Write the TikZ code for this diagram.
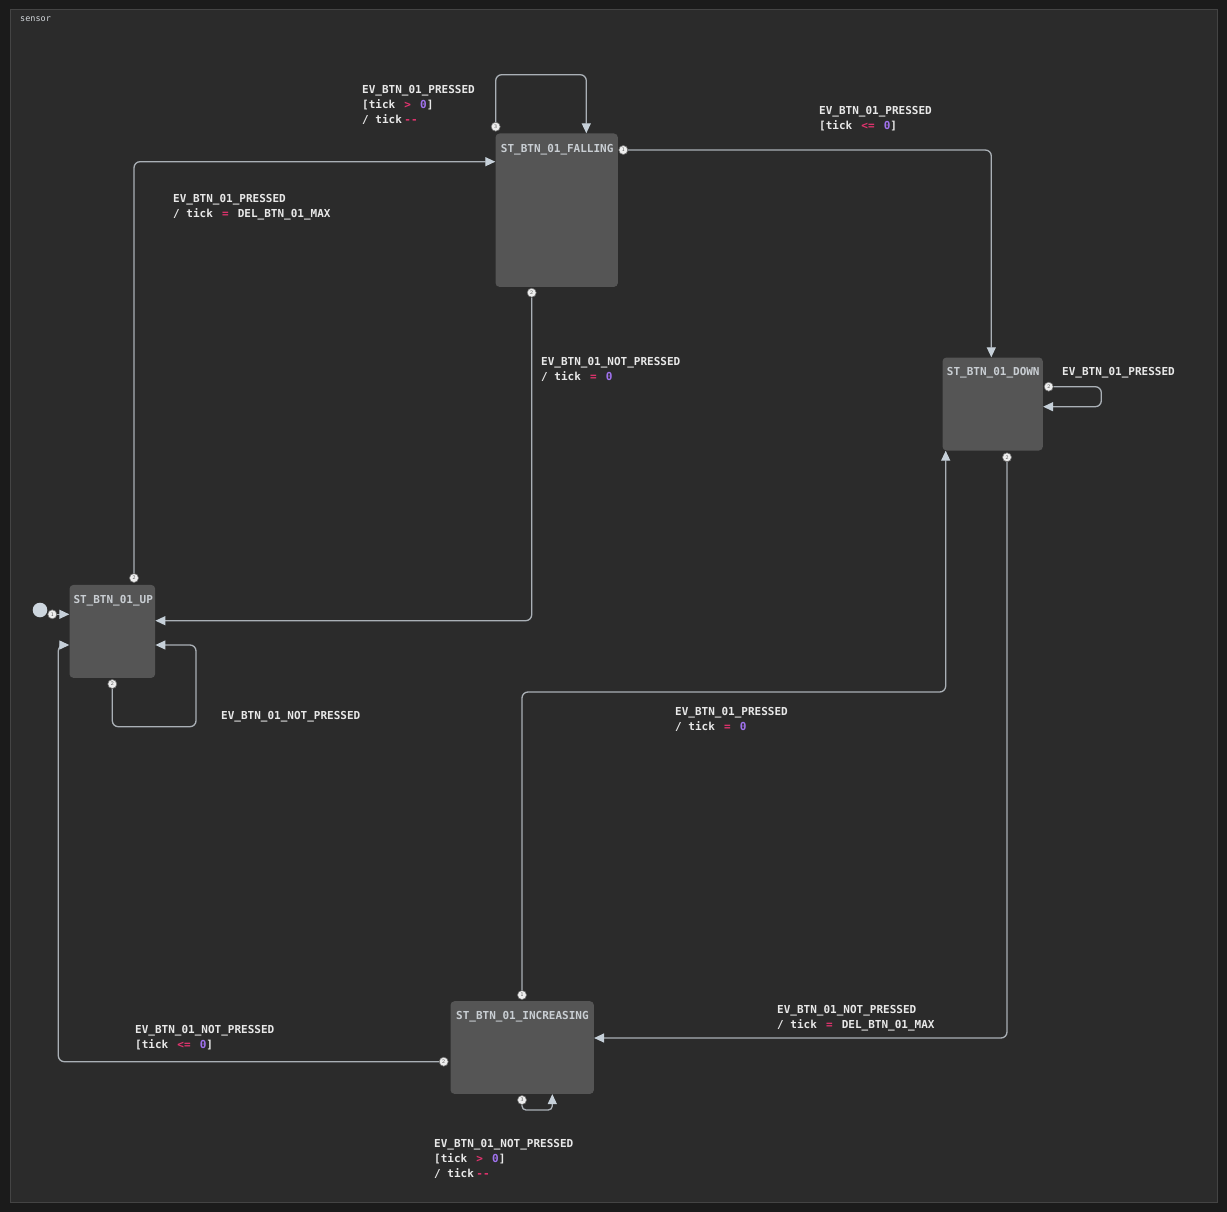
\documentclass[tikz,border=0pt]{standalone}
\usepackage{fontspec}
\setmonofont{DejaVu Sans Mono}
\usetikzlibrary{arrows.meta}
\definecolor{bgout}{HTML}{1B1B1B}
\definecolor{bgin}{HTML}{2B2B2B}
\definecolor{framec}{HTML}{444444}
\definecolor{statefill}{HTML}{555555}
\definecolor{titlec}{HTML}{C9CED3}
\definecolor{edgec}{HTML}{AAB0B6}
\definecolor{tipc}{HTML}{C6D0D9}
\definecolor{lblc}{HTML}{E8E8E8}
\definecolor{opc}{HTML}{E2336E}
\definecolor{numc}{HTML}{A072EE}
\definecolor{portfill}{HTML}{EEEEEE}
\definecolor{portdraw}{HTML}{6E6E6E}
\definecolor{portnum}{HTML}{555555}
\definecolor{initc}{HTML}{CDD6DE}
\newcommand{\opx}[1]{\hspace{2.5pt}\textcolor{opc}{#1}\hspace{2.5pt}}
\newcommand{\numx}[1]{\textcolor{numc}{#1}}
\tikzset{
  statebox/.style={fill=statefill, draw=none, rounded corners=4pt, inner sep=0pt, anchor=north west},
  stitle/.style={anchor=base west, inner sep=0pt, text=titlec, font=\fontsize{11}{15}\selectfont\ttfamily\bfseries},
  port/.style={circle, fill=portfill, draw=portdraw, line width=0.6pt, inner sep=0pt, minimum size=9pt, text=portnum, font=\fontsize{5.5}{6}\selectfont\sffamily},
  edge/.style={draw=edgec, line width=1.3pt, rounded corners=6pt, -{Triangle[length=10pt,width=9pt,fill=tipc,color=tipc]}},
  lbl/.style={anchor=north west, inner sep=0pt, align=left, text=lblc, font=\fontsize{11}{15}\selectfont\ttfamily\bfseries},
}
\begin{document}
\begin{tikzpicture}[x=1pt,y=-1pt]
\useasboundingbox (0,0) rectangle (1227,1212);
\fill[bgout] (0,0) rectangle (1227,1212);
\draw[fill=bgin, draw=framec, line width=1pt] (10,10) rectangle (1217,1202);
\node[anchor=west, inner sep=0pt, text=titlec!80, font=\fontsize{8.5}{9}\selectfont\ttfamily] (sensor) at (20,19.5) {sensor};

% states
\node[statebox, minimum width=122.4pt, minimum height=153.4pt] (fall) at (495.3,133.3) {};
\node[stitle] (fallT) at (500.7,152.3) {ST\_BTN\_01\_FALLING};
\node[statebox, minimum width=100.4pt, minimum height=93pt] (down) at (942.3,357.3) {};
\node[stitle] (downT) at (946.7,375.7) {ST\_BTN\_01\_DOWN};
\node[statebox, minimum width=85.7pt, minimum height=93pt] (up) at (69.3,584.7) {};
\node[stitle] (upT) at (73.3,603.3) {ST\_BTN\_01\_UP};
\node[statebox, minimum width=143.4pt, minimum height=92.7pt] (inc) at (450.3,1001) {};
\node[stitle] (incT) at (456,1019.7) {ST\_BTN\_01\_INCREASING};

% initial
\node[circle, fill=initc, inner sep=0pt, minimum size=14.6pt] (init) at (40,610) {};

% ports
\node[port] (ip1) at (52.3,614.3) {1};
\node[port] (up2t) at (134,578) {2};
\node[port] (up2b) at (112.3,684) {2};
\node[port] (fp3) at (495.7,126.7) {3};
\node[port] (fp1) at (623.3,150) {1};
\node[port] (fp2) at (531.7,292.7) {2};
\node[port] (dp2r) at (1048.7,386.7) {2};
\node[port] (dp2b) at (1007,457.3) {2};
\node[port] (inc1) at (522,995) {1};
\node[port] (inc2) at (443.7,1061.7) {2};
\node[port] (inc3) at (522,1100) {3};

% edges
\draw[edge] (ip1) -- (up.west |- 0,614.3);
\draw[edge] (up2t) -- (134,161.7) -- (fall.west |- 0,161.7);
\draw[edge] (up2b) -- (112.3,726.7) -- (196,726.7) -- (196,645) -- (up.east |- 0,645);
\draw[edge] (fp3) -- (495.7,74.7) -- (586.3,74.7) -- (fall.north -| 586.3,0);
\draw[edge] (fp1) -- (991.3,150) -- (down.north -| 991.3,0);
\draw[edge] (fp2) -- (531.7,620.7) -- (up.east |- 0,620.7);
\draw[edge] (dp2r) -- (1101.3,386.7) -- (1101.3,406.7) -- (down.east |- 0,406.7);
\draw[edge] (dp2b) -- (1007,1038) -- (inc.east |- 0,1038);
\draw[edge] (inc1) -- (522,692) -- (945.7,692) -- (down.south -| 945.7,0);
\draw[edge] (inc2) -- (58.3,1061.7) -- (58.3,645) -- (up.west |- 0,645);
\draw[edge, rounded corners=4pt] (inc3) -- (522,1110) -- (552.3,1110) -- (inc.south -| 552.3,0);

% labels
\node[lbl] (l2) at (173,194) {EV\_BTN\_01\_PRESSED\\/ tick \opx{=} DEL\_BTN\_01\_MAX};
\node[lbl] (l3) at (221,711) {EV\_BTN\_01\_NOT\_PRESSED};
\node[lbl] (l4) at (362,85) {EV\_BTN\_01\_PRESSED\\{[}tick \opx{>} \numx{0}]\\/ tick\opx{-{}-}};
\node[lbl] (l5) at (819,106) {EV\_BTN\_01\_PRESSED\\{[}tick \opx{<=} \numx{0}]};
\node[lbl] (l6) at (541,357) {EV\_BTN\_01\_NOT\_PRESSED\\/ tick \opx{=} \numx{0}};
\node[lbl] (l7) at (1062,367) {EV\_BTN\_01\_PRESSED};
\node[lbl] (l8) at (777,1005) {EV\_BTN\_01\_NOT\_PRESSED\\/ tick \opx{=} DEL\_BTN\_01\_MAX};
\node[lbl] (l9) at (675,707) {EV\_BTN\_01\_PRESSED\\/ tick \opx{=} \numx{0}};
\node[lbl] (l10) at (135,1025) {EV\_BTN\_01\_NOT\_PRESSED\\{[}tick \opx{<=} \numx{0}]};
\node[lbl] (l11) at (434,1139) {EV\_BTN\_01\_NOT\_PRESSED\\{[}tick \opx{>} \numx{0}]\\/ tick\opx{-{}-}};
\end{tikzpicture}
\end{document}
